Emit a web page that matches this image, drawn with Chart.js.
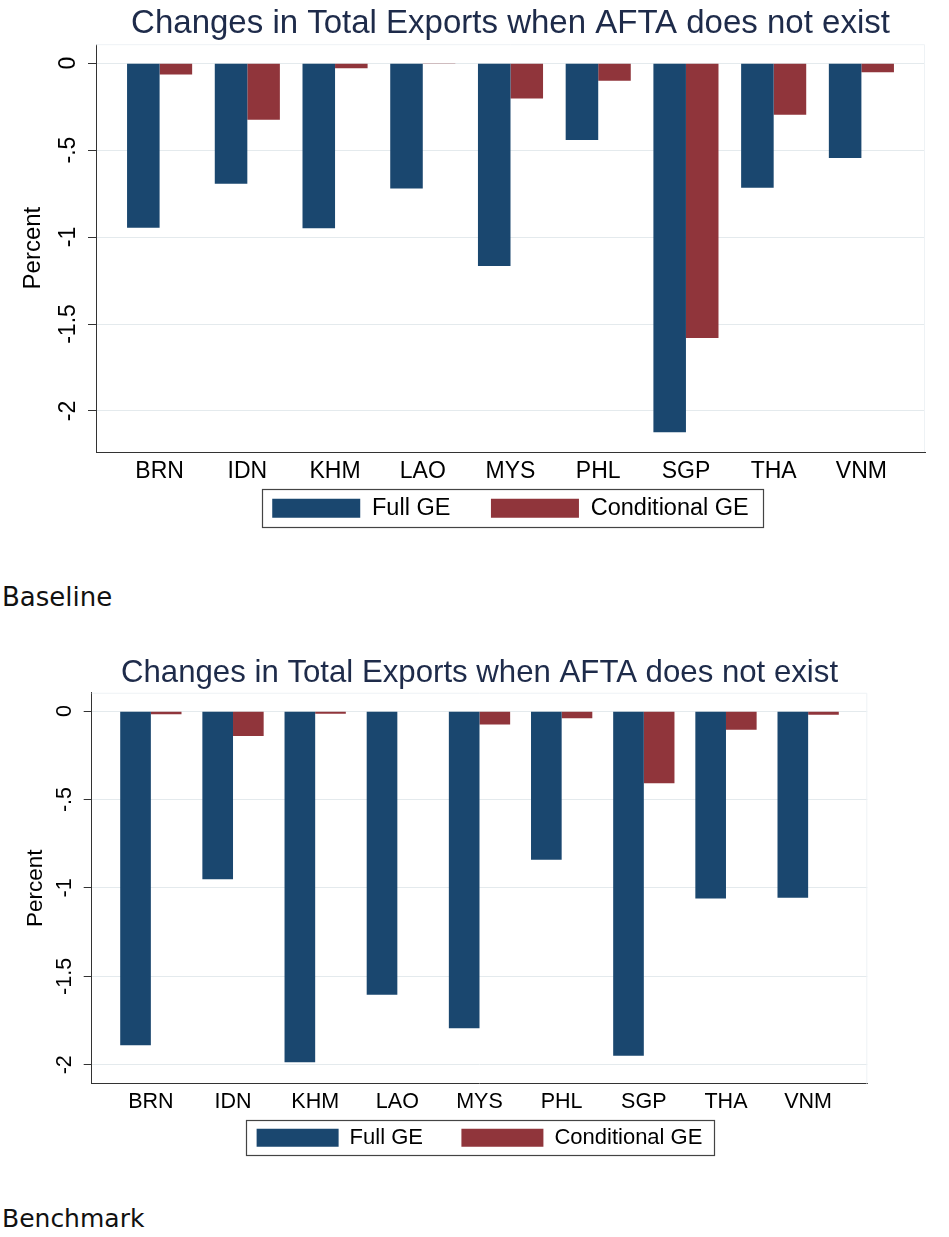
<!DOCTYPE html>
<html>
<head>
<meta charset="utf-8">
<script src="https://cdn.jsdelivr.net/npm/chart.js@4.4.1/dist/chart.umd.min.js"></script>
<style>
  body { margin: 0; background: #fff; width: 949px; height: 1237px; position: relative; overflow: hidden; }
  canvas { position: absolute; left: 0; }
  .cap { position: absolute; left: 2px; font-family: "DejaVu Sans", sans-serif; font-size: 26px; line-height: 30px; color: #111; }
</style>
</head>
<body>
<canvas id="baseline" width="949" height="545" style="top:0"></canvas>
<div class="cap" style="top:582px">Baseline</div>
<canvas id="benchmark" width="949" height="560" style="top:620px"></canvas>
<div class="cap" style="top:1204px;font-size:25px">Benchmark</div>
<script>
// datos
const categories = ["BRN", "IDN", "KHM", "LAO", "MYS", "PHL", "SGP", "THA", "VNM"];
const seriesNames = ["Full GE", "Conditional GE"];
const baselineFull = [-0.946, -0.694, -0.950, -0.721, -1.166, -0.442, -2.122, -0.717, -0.545];
const baselineCond = [-0.065, -0.325, -0.029, -0.005, -0.203, -0.101, -1.581, -0.296, -0.052];
const benchmarkFull = [-1.890, -0.951, -1.985, -1.604, -1.794, -0.840, -1.949, -1.060, -1.056];
const benchmarkCond = [-0.017, -0.141, -0.015, -0.003, -0.075, -0.040, -0.408, -0.105, -0.020];
const yTickValues = [0, -0.5, -1, -1.5, -2];
const yTickLabels = ["0", "-.5", "-1", "-1.5", "-2"];
const chartTitle = "Changes in Total Exports when AFTA does not exist";

const FONT = '"Liberation Sans", Arial, sans-serif';
const BLUE = "#1a476f";
const RED = "#90353b";

// marco del cuadro de leyenda
const legendFrame = {
  id: "legendFrame",
  afterDraw(chart, args, opts) {
    const boxes = chart.legend && chart.legend.legendHitBoxes;
    if (!boxes || !boxes.length) return;
    const ctx = chart.ctx;
    const l = Math.min(...boxes.map(b => b.left)) - opts.padL;
    const r = Math.max(...boxes.map(b => b.left + b.width)) + opts.padR;
    const cy = boxes[0].top + boxes[0].height / 2;
    ctx.save();
    ctx.strokeStyle = "#444";
    ctx.lineWidth = 1.2;
    ctx.strokeRect(Math.round(l) + 0.5, Math.round(cy - opts.h / 2) + 0.5, Math.round(r - l), Math.round(opts.h));
    ctx.restore();
  }
};

// borde tenue de la region del grafico
const plotFrame = {
  id: "plotFrame",
  beforeDatasetsDraw(chart) {
    const {ctx, chartArea: a} = chart;
    ctx.save();
    ctx.strokeStyle = "#eef2f5";
    ctx.lineWidth = 1;
    ctx.beginPath();
    ctx.moveTo(a.left, a.top + 0.5);
    ctx.lineTo(a.right - 0.5, a.top + 0.5);
    ctx.lineTo(a.right - 0.5, a.bottom);
    ctx.stroke();
    ctx.restore();
  }
};

function makeChart(id, full, cond, g) {
  const canvas = document.getElementById(id);
  return new Chart(canvas, {
    type: "bar",
    data: {
      datasets: [
        {
          label: seriesNames[0],
          data: full.map((y, i) => ({x: i, y})),
          backgroundColor: BLUE,
          borderWidth: 0,
          categoryPercentage: g.catPct,
          barPercentage: 1
        },
        {
          label: seriesNames[1],
          data: cond.map((y, i) => ({x: i, y})),
          backgroundColor: RED,
          borderWidth: 0,
          categoryPercentage: g.catPct,
          barPercentage: 1
        }
      ]
    },
    options: {
      responsive: false,
      animation: false,
      layout: { padding: { top: 0, left: 0, right: g.right, bottom: g.padBottom } },
      scales: {
        x: {
          type: "linear",
          offset: false,
          min: g.xMin,
          max: g.xMax,
          afterFit(s) { s.height = g.xHeight; },
          ticks: {
            stepSize: 1,
            includeBounds: false,
            autoSkip: false,
            maxRotation: 0,
            padding: g.xPad,
            color: "#000",
            font: { family: FONT, size: g.xFont },
            callback: v => {
              const k = Math.round(v);
              return (Math.abs(k - v) < 1e-6 && categories[k]) ? categories[k] : "";
            }
          },
          grid: { display: false, drawTicks: false, offset: false },
          border: { display: true, color: "#333", width: 1 }
        },
        y: {
          min: g.yMin,
          max: g.yMax,
          afterFit(s) { s.width = g.left; },
          afterBuildTicks(s) { s.ticks = yTickValues.map(v => ({value: v})); },
          ticks: {
            minRotation: 90,
            maxRotation: 90,
            crossAlign: "center",
            padding: 0,
            color: "#000",
            font: { family: FONT, size: g.tickFont },
            callback: v => {
              const k = yTickValues.findIndex(t => Math.abs(t - v) < 1e-9);
              return k >= 0 ? yTickLabels[k] : "";
            }
          },
          grid: { color: "#e4eaed", lineWidth: 1, tickLength: 8, tickColor: "#333", drawTicks: true },
          border: { display: true, color: "#333", width: 1 },
          title: {
            display: true,
            text: "Percent",
            color: "#000",
            font: { family: FONT, size: g.axisTitleFont },
            padding: { top: g.axisTitlePad, bottom: 0 }
          }
        }
      },
      plugins: {
        title: {
          display: true,
          text: chartTitle,
          fullSize: false,
          color: "#1e2b4a",
          font: { family: FONT, size: g.titleFont, weight: "normal" },
          padding: { top: g.titlePadTop, bottom: g.titlePadBottom }
        },
        legend: {
          position: "bottom",
          fullSize: false,
          labels: {
            boxWidth: g.boxW,
            boxHeight: g.boxH,
            padding: g.legendPad,
            color: "#000",
            font: { family: FONT, size: g.legendFont },
            // espacio extra entre las dos entradas
            generateLabels(chart) {
              const items = Chart.defaults.plugins.legend.labels.generateLabels(chart);
              items.forEach((it, i) => { if (i < items.length - 1) it.text += "    "; });
              return items;
            }
          }
        },
        legendFrame: { padL: g.framePadL, padR: g.framePadR, h: g.frameH },
        tooltip: { enabled: false }
      }
    },
    plugins: [legendFrame, plotFrame]
  });
}

makeChart("baseline", baselineFull, baselineCond, {
  left: 96, right: 24, padBottom: 15,
  titleFont: 33, titlePadTop: 4.6, titlePadBottom: 0,
  yMin: -2.236, yMax: 0.109,
  tickFont: 23, axisTitleFont: 24, axisTitlePad: 19,
  xFont: 23, xPad: 5.5, xHeight: 30,
  xMin: -0.725, xMax: 8.725, catPct: 0.742,
  legendFont: 23.5, legendPad: 14.5, boxW: 88, boxH: 19,
  framePadL: 10.7, framePadR: 13.7, frameH: 37.7
});

makeChart("benchmark", benchmarkFull, benchmarkCond, {
  left: 91.7, right: 81.7, padBottom: 21.3,
  titleFont: 31.2, titlePadTop: 34.3, titlePadBottom: 1,
  yMin: -2.107, yMax: 0.104,
  tickFont: 21.5, axisTitleFont: 22.5, axisTitlePad: 22,
  xFont: 21.5, xPad: 5.8, xHeight: 29,
  xMin: -0.72, xMax: 8.72, catPct: 0.746,
  legendFont: 22, legendPad: 14, boxW: 82, boxH: 18,
  framePadL: 10.3, framePadR: 12.4, frameH: 35.3
});
</script>
</body>
</html>
